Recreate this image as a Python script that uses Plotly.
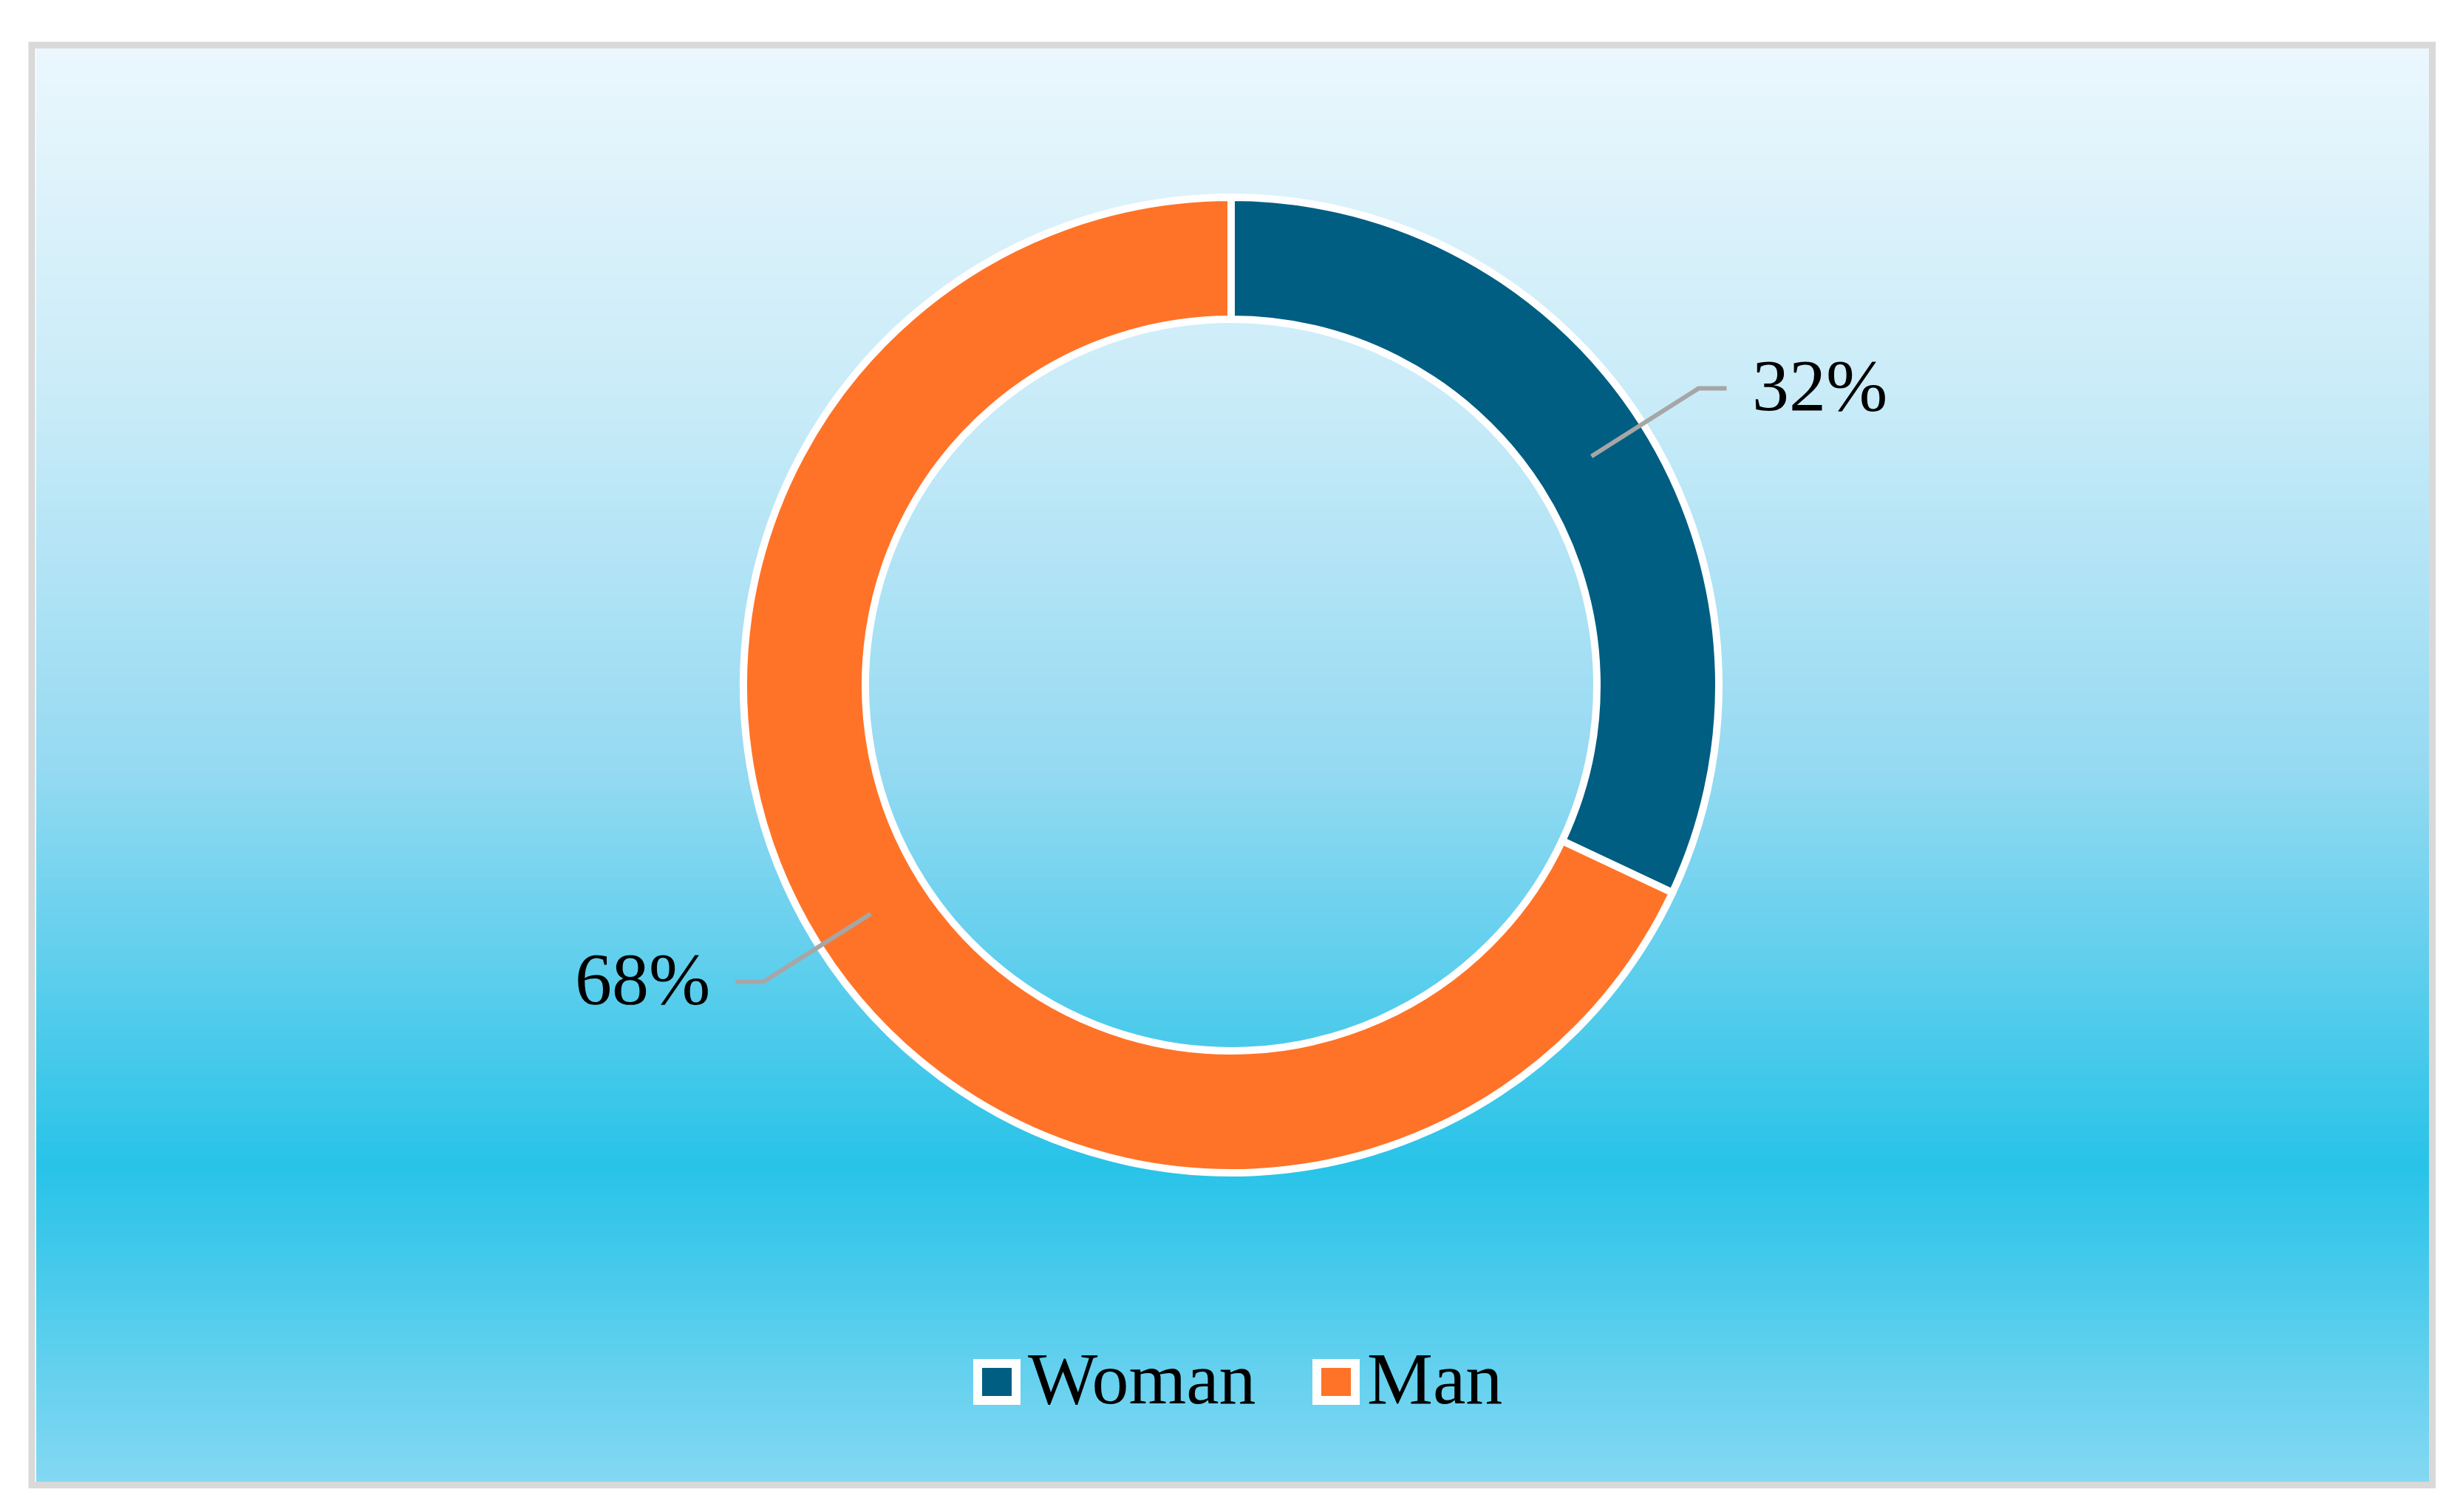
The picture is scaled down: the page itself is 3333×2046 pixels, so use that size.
import math
import plotly.graph_objects as go

# ---- data ----
labels = ["Woman", "Man"]
values = [32, 68]
colors = ["#005E83", "#FF7328"]

W, H = 3333, 2046
FONT = "Liberation Serif, Times New Roman, serif"

def px(x):
    return x / W

def py(y):
    return 1 - y / H

# pie geometry (pixels)
CX, CY, R = 1658, 919, 660
HOLE = 0.75

fig = go.Figure()
fig.add_trace(go.Pie(
    labels=labels, values=values, hole=HOLE, sort=False,
    direction="clockwise", rotation=0,
    marker=dict(colors=colors, line=dict(color="white", width=10)),
    textinfo="none", hoverinfo="label+percent", showlegend=False,
    domain=dict(x=[px(CX - 1600), px(CX + 1600)], y=[py(CY + R), py(CY - R)]),
))

shapes = []
# gradient background
top, bot = 57, 1997
stops = [(0.0, (235, 247, 253)), (0.25, (200, 235, 248)), (0.5, (150, 218, 242)),
         (0.78, (40, 195, 232)), (1.0, (132, 216, 242))]

def col(t):
    for (t0, c0), (t1, c1) in zip(stops[:-1], stops[1:]):
        if t <= t1:
            f = (t - t0) / (t1 - t0) if t1 > t0 else 0
            return "rgb(%d,%d,%d)" % tuple(round(a + (b - a) * f) for a, b in zip(c0, c1))
    return "rgb(%d,%d,%d)" % stops[-1][1]

N = 240
for i in range(N):
    y0 = top + (bot - top) * i / N
    y1 = top + (bot - top) * (i + 1) / N + 1
    shapes.append(dict(type="rect", xref="paper", yref="paper", layer="below",
                       x0=px(41), x1=px(3280), y0=py(y1), y1=py(y0),
                       fillcolor=col((i + 0.5) / N), line=dict(width=0)))
# border
shapes.append(dict(type="rect", xref="paper", yref="paper", layer="above",
                   x0=px(35), x1=px(3283.5), y0=py(2001.5), y1=py(53),
                   line=dict(color="#D9D9D9", width=9), fillcolor="rgba(0,0,0,0)"))

annotations = []
total = sum(values)
cum = 0
for lab, v in zip(labels, values):
    mid = (cum + v / 2) / total * 2 * math.pi
    cum += v
    s, c = math.sin(mid), math.cos(mid)
    r0 = R * (1 + HOLE) / 2
    r1 = R * 1.135
    x0, y0 = CX + r0 * s, CY - r0 * c
    x1, y1 = CX + r1 * s, CY - r1 * c
    sign = 1 if s >= 0 else -1
    x2 = x1 + sign * 38
    shapes.append(dict(type="path", xref="paper", yref="paper", layer="above",
                       path="M %f %f L %f %f L %f %f" % (px(x0), py(y0), px(x1), py(y1), px(x2), py(y1)),
                       line=dict(color="#A6A6A6", width=6)))
    annotations.append(dict(xref="paper", yref="paper", x=px(x2 + sign * 33), y=py(y1 - 4),
                            text="%d%%" % round(100 * v / total), showarrow=False,
                            xanchor="left" if sign > 0 else "right", yanchor="middle",
                            font=dict(family=FONT, size=100, color="black")))

# custom legend
leg_box_x = [1341, 1800]
leg_y = 1862
for lab, c, bx in zip(labels, colors, leg_box_x):
    shapes.append(dict(type="rect", xref="paper", yref="paper", layer="above",
                       x0=px(bx - 26), x1=px(bx + 26), y0=py(leg_y + 25), y1=py(leg_y - 25),
                       fillcolor=c, line=dict(color="white", width=12)))
    annotations.append(dict(xref="paper", yref="paper", x=px(bx + 40), y=py(leg_y - 5),
                            text=lab, showarrow=False, xanchor="left", yanchor="middle",
                            font=dict(family=FONT, size=100, color="black")))

fig.update_layout(
    width=W, height=H, margin=dict(l=0, r=0, t=0, b=0),
    paper_bgcolor="white", plot_bgcolor="white",
    shapes=shapes, annotations=annotations, showlegend=False,
)
fig.write_html("out.html")
